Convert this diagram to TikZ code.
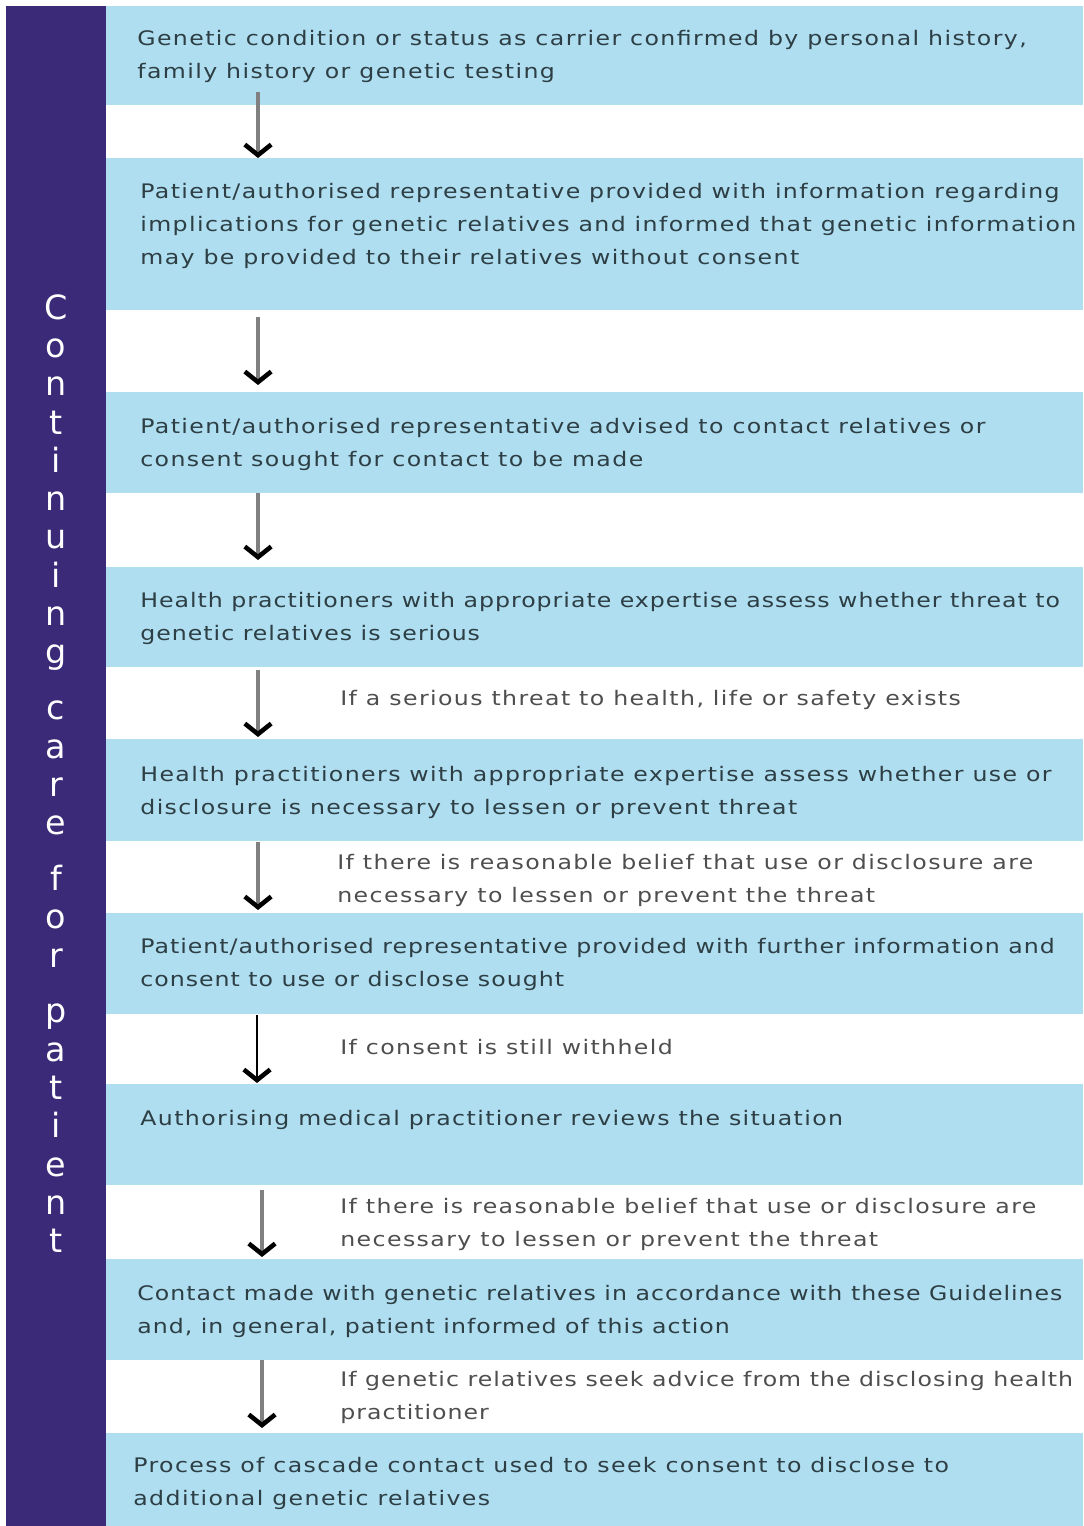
\documentclass[tikz,border=0pt]{standalone}
\usepackage{fontspec}
\setmainfont{DejaVu Sans}
\newfontfamily\flowfont[FakeStretch=1.18,LetterSpace=7]{DejaVu Sans}
\newfontfamily\flowfonttight[FakeStretch=1.18,LetterSpace=5]{DejaVu Sans}
\usetikzlibrary{arrows.meta}
\definecolor{barpurple}{RGB}{58,42,120}
\definecolor{bandblue}{RGB}{175,222,240}
\definecolor{boxink}{RGB}{45,62,68}
\definecolor{noteink}{RGB}{78,78,78}

\begin{document}
\begin{tikzpicture}[x=0.02cm,y=-0.02cm,
    stage/.style={anchor=west,align=left,inner sep=0pt,text=boxink,
                  font=\flowfont\fontsize{11.4}{18.8}\selectfont},
    cond/.style={anchor=west,align=left,inner sep=0pt,text=noteink,
                 font=\flowfont\fontsize{11.4}{18.8}\selectfont},
    tight/.style={font=\flowfonttight\fontsize{11.4}{18.8}\selectfont},
    flow/.style={line width=2pt,gray,
                 -{Straight Barb[length=6pt,width=15pt,line width=2.6pt,color=black]}}]
  \useasboundingbox (0,0) rectangle (1083,1526);

  % side bar and bands
  \fill[barpurple] (6,6) rectangle (106,1526);
  \foreach \ya/\yb in {6/105, 158/310, 392/493, 567/667, 739/841,
                       913/1014, 1084/1185, 1259/1360, 1433/1526}
    \fill[bandblue] (106,\ya) rectangle (1083,\yb);

  \node[anchor=north,align=center,inner sep=0pt,text=white,
        font=\fontsize{19}{21.8}\selectfont] (side) at (56,294)
       {C\\o\\n\\t\\i\\n\\u\\i\\n\\g\\[10pt]c\\a\\r\\e\\[10pt]f\\o\\r\\[10pt]p\\a\\t\\i\\e\\n\\t};

  % steps
  \node[stage] (s1) at (137,56)
       {Genetic condition or status as carrier confirmed by personal history,\\
        family history or genetic testing};
  \node[stage] (s2) at (140,226)
       {Patient/authorised representative provided with information regarding\\
        implications for genetic relatives and informed that genetic information\\
        may be provided to their relatives without consent};
  \node[stage] (s3) at (140,444)
       {Patient/authorised representative advised to contact relatives or\\
        consent sought for contact to be made};
  \node[stage,tight] (s4) at (140,618)
       {Health practitioners with appropriate expertise assess whether threat to\\
        genetic relatives is serious};
  \node[stage] (s5) at (140,792)
       {Health practitioners with appropriate expertise assess whether use or\\
        disclosure is necessary to lessen or prevent threat};
  \node[stage,tight] (s6) at (140,964)
       {Patient/authorised representative provided with further information and\\
        consent to use or disclose sought};
  \node[stage] (s7) at (140,1120)
       {Authorising medical practitioner reviews the situation};
  \node[stage,tight] (s8) at (137,1311)
       {Contact made with genetic relatives in accordance with these Guidelines\\
        and, in general, patient informed of this action};
  \node[stage] (s9) at (133,1483)
       {Process of cascade contact used to seek consent to disclose to\\
        additional genetic relatives};

  % conditions
  \node[cond] (c4) at (340,700)
       {If a serious threat to health, life or safety exists};
  \node[cond] (c5) at (337,880)
       {If there is reasonable belief that use or disclosure are\\
        necessary to lessen or prevent the threat};
  \node[cond] (c6) at (340,1047) {If consent is still withheld};
  \node[cond] (c7) at (340,1224)
       {If there is reasonable belief that use or disclosure are\\
        necessary to lessen or prevent the threat};
  \node[cond,tight] (c8) at (340,1397)
       {If genetic relatives seek advice from the disclosing health\\
        practitioner};

  % arrows
  \foreach \i/\x/\ya/\yb in {1/258/92/158, 2/258/317/385, 3/258/493/560,
                             4/258/670/737, 5/258/842/910, 7/262/1190/1257,
                             8/262/1360/1428}{
    \coordinate (from\i) at (\x,\ya);
    \coordinate (to\i) at (\x,\yb);
    \draw[flow] (from\i) -- (to\i);
  }
  \coordinate (from6) at (257,1015);
  \coordinate (to6) at (257,1083);
  \draw[flow,line width=1.2pt,black] (from6) -- (to6);
\end{tikzpicture}
\end{document}
